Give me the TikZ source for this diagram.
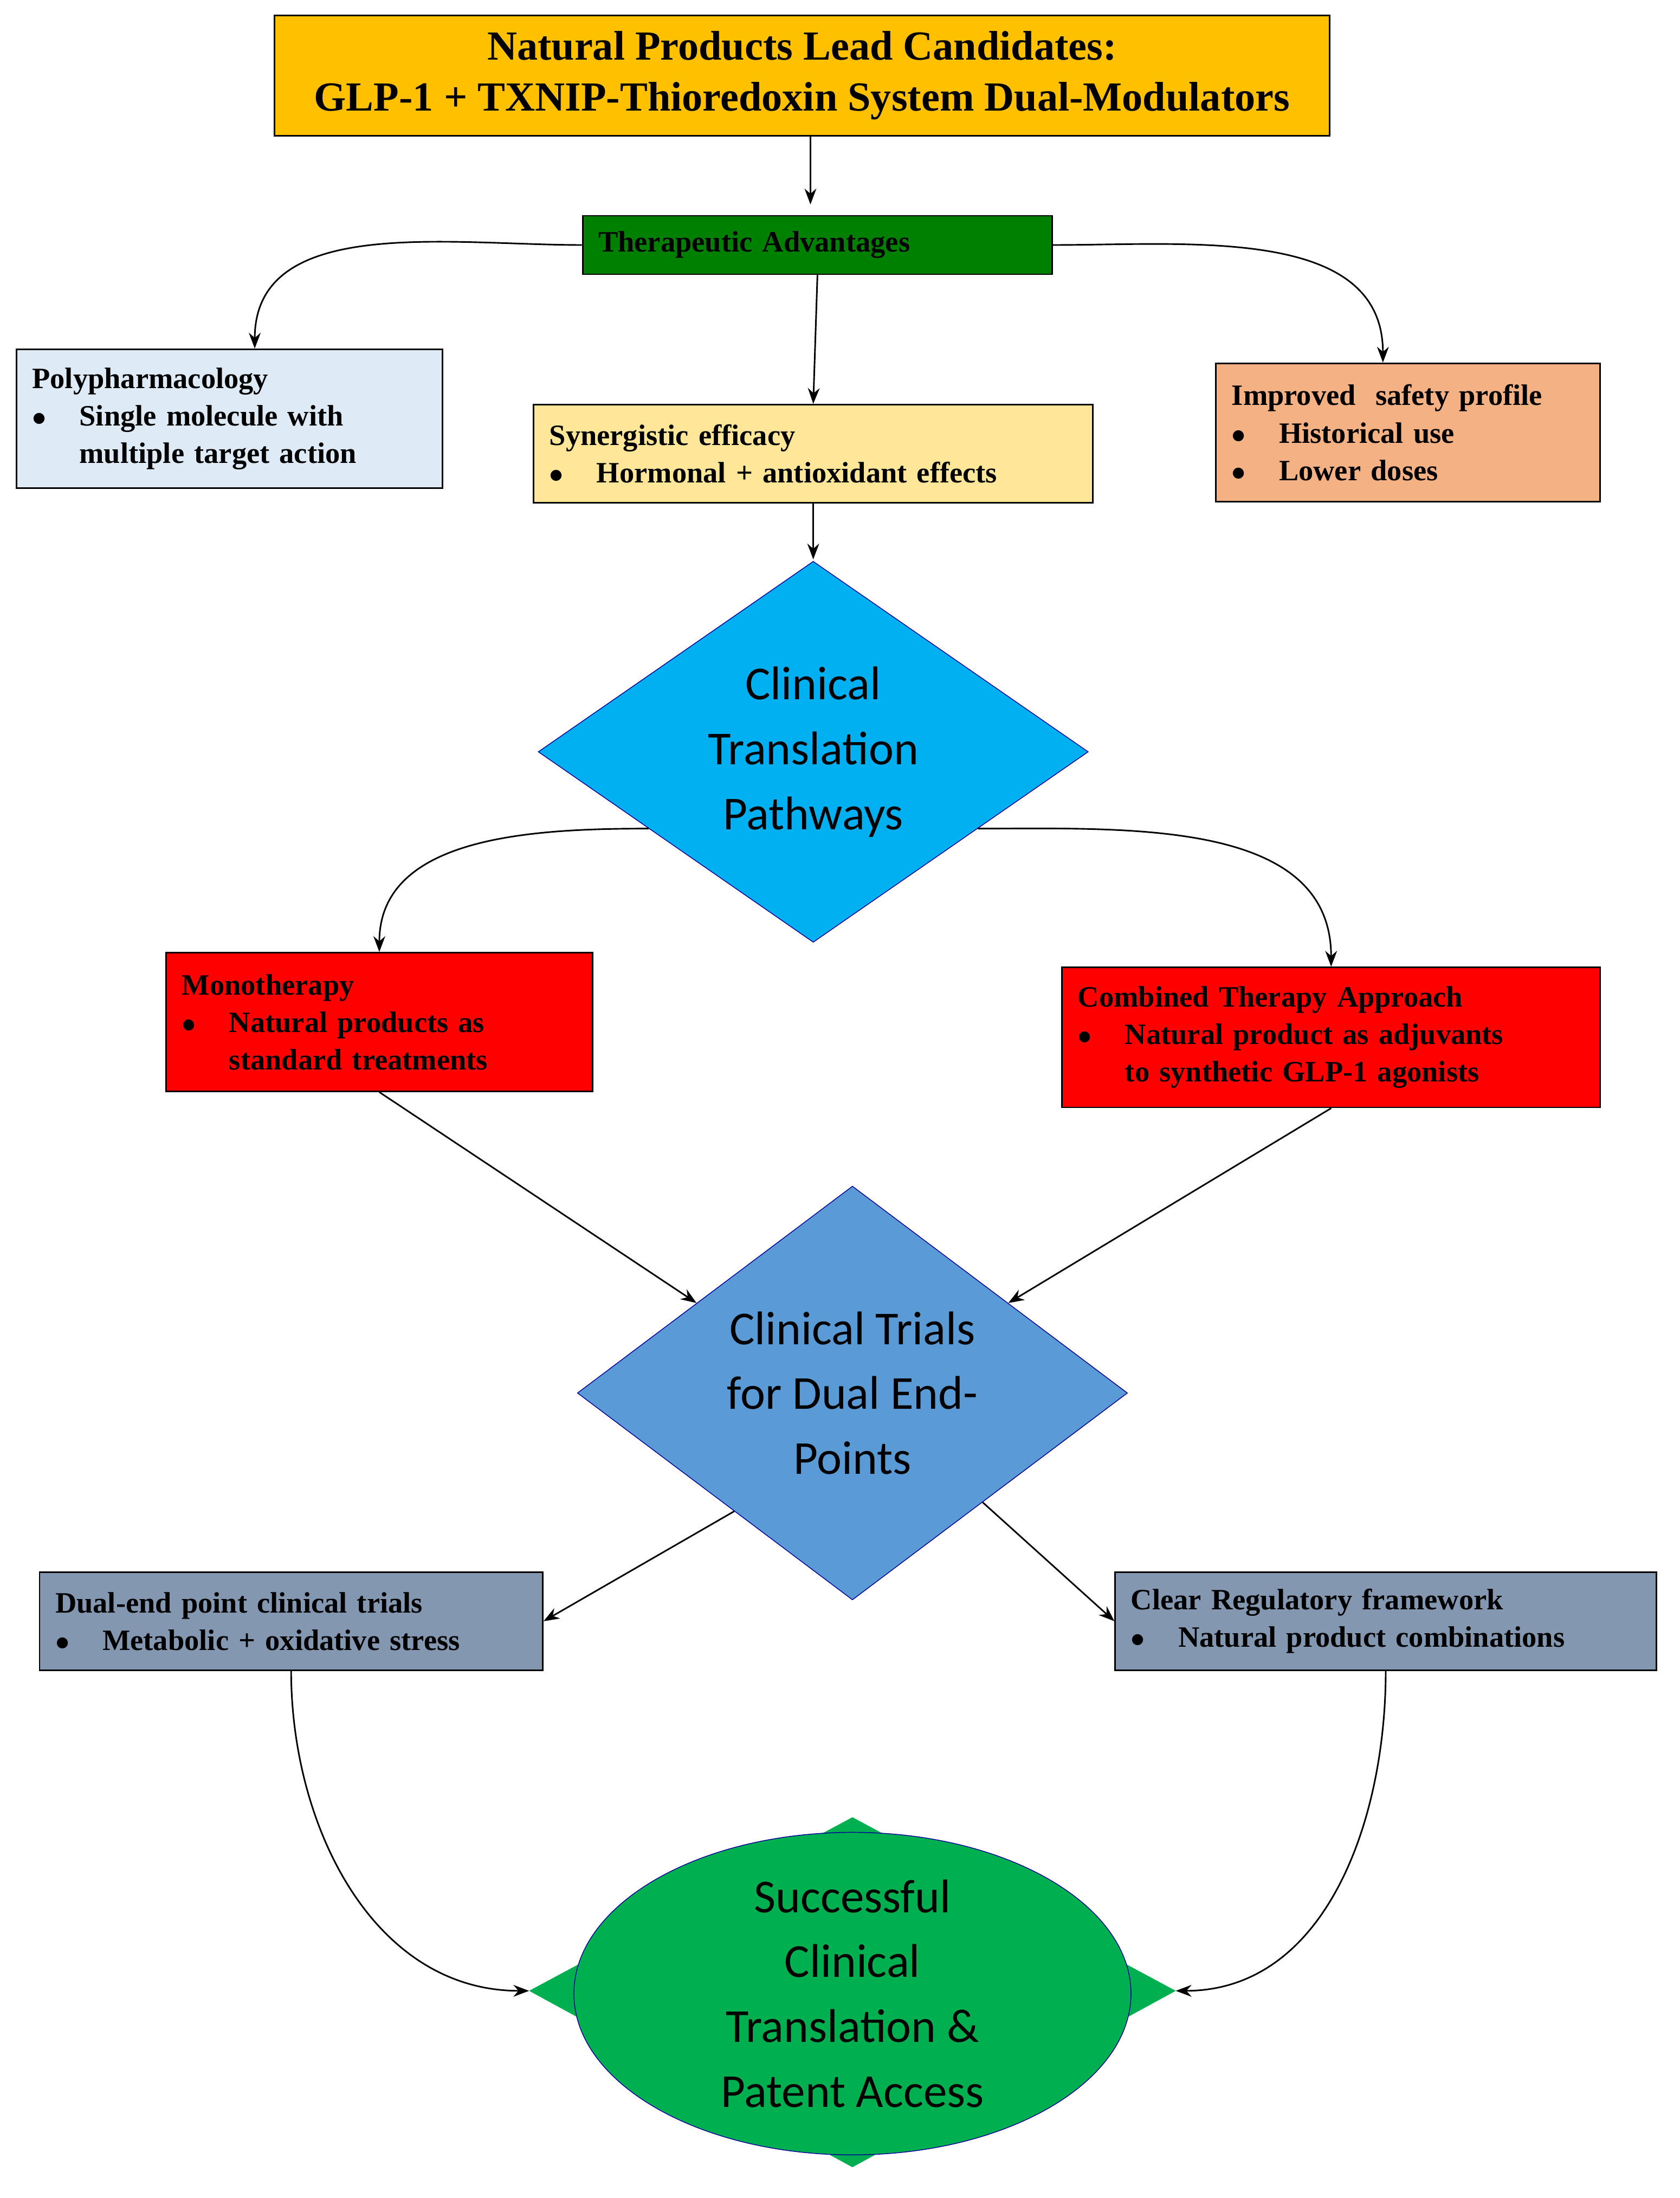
\documentclass[tikz,border=0pt]{standalone}
\usepackage{fontspec}
\setmainfont{Liberation Serif}
\newfontfamily\carlitofont{Carlito}
\usetikzlibrary{shapes.geometric,arrows.meta}
\definecolor{titleorange}{HTML}{FFC000}
\definecolor{tagreen}{HTML}{008000}
\definecolor{polyblue}{HTML}{DEEBF7}
\definecolor{synyellow}{HTML}{FFE699}
\definecolor{safeorange}{HTML}{F4B183}
\definecolor{pathblue}{HTML}{00B0F0}
\definecolor{trialblue}{HTML}{5B9BD5}
\definecolor{regslate}{HTML}{8497B0}
\definecolor{succgreen}{HTML}{00B050}
\newcommand{\bl}{\makebox[1.6em][l]{$\bullet$}}
\newcommand{\ind}{\hspace*{1.6em}}
\tikzset{
  box/.style={draw=black, thick, align=left, font=\bfseries\fontsize{15}{19}\selectfont, inner sep=8pt},
  dia/.style={diamond, draw=blue!60!black, inner sep=0pt, align=center, font=\carlitofont\fontsize{24}{33}\selectfont},
  arr/.style={-{Stealth[length=8pt]}, thick}
}
\begin{document}
\begin{tikzpicture}[x=0.025cm,y=-0.025cm]
\useasboundingbox (0,0) rectangle (1200,1570);
\node[box, fill=titleorange, align=center, minimum width=754*0.025cm, minimum height=80*0.025cm,
  font=\bfseries\fontsize{21}{26}\selectfont] (title) at (573,54)
  {Natural Products Lead Candidates:\\GLP-1 + TXNIP-Thioredoxin System Dual-Modulators};
\node[box, fill=tagreen, minimum width=329*0.025cm, minimum height=40*0.025cm, text width=313*0.025cm] (ta) at (584,175)
  {Therapeutic Advantages};
\node[box, fill=polyblue, minimum width=298*0.025cm, minimum height=99*0.025cm, text width=282*0.025cm] (poly) at (164,299)
  {Polypharmacology\\\bl Single molecule with\\\ind multiple target action};
\node[box, fill=synyellow, minimum width=393*0.025cm, minimum height=70*0.025cm, text width=377*0.025cm] (syn) at (581,324)
  {Synergistic efficacy\\\bl Hormonal + antioxidant effects};
\node[box, fill=safeorange, minimum width=268*0.025cm, minimum height=99*0.025cm, text width=252*0.025cm] (safe) at (1006,309)
  {Improved\ \ safety profile\\\bl Historical use\\\bl Lower doses};
\node[dia, fill=pathblue, minimum width=393*0.025cm, minimum height=254*0.025cm] (path) at (581,537)
  {Clinical\\Translation\\Pathways};
\node[box, fill=red, minimum width=298*0.025cm, minimum height=99*0.025cm, text width=282*0.025cm] (mono) at (271,730)
  {Monotherapy\\\bl Natural products as\\\ind standard treatments};
\node[box, fill=red, minimum width=378*0.025cm, minimum height=100*0.025cm, text width=362*0.025cm] (comb) at (951,741)
  {Combined Therapy Approach\\\bl Natural product as adjuvants\\\ind to synthetic GLP-1 agonists};
\node[dia, fill=trialblue, minimum width=393*0.025cm, minimum height=186*0.025cm] (trial) at (609,995)
  {Clinical Trials\\for Dual End-\\Points};
\node[box, fill=regslate, minimum width=353*0.025cm, minimum height=70*0.025cm, text width=337*0.025cm] (dual) at (208,1158)
  {Dual-end point clinical trials\\\bl Metabolic + oxidative stress};
\node[box, fill=regslate, minimum width=380*0.025cm, minimum height=70*0.025cm, text width=364*0.025cm] (reg) at (990,1158)
  {Clear Regulatory framework\\\bl Natural product combinations};
% success shape
\fill[succgreen] (378,1422) -- (609,1298) -- (840,1422) -- (609,1548) -- cycle;
\node[ellipse, draw=blue!60!black, fill=succgreen, minimum width=398*0.025cm, minimum height=230*0.025cm,
  inner sep=0pt, align=center, font=\carlitofont\fontsize{24}{33}\selectfont] (succ) at (609,1424)
  {Successful\\Clinical\\Translation \&\\Patent Access};
\coordinate (sl) at (378,1422);
\coordinate (sr) at (840,1422);
% connectors
\draw[arr] (title.south -| 579,0) -- (579,146);
\draw[arr] (ta.west) to[out=180,in=90] (poly.north -| 182,0);
\draw[arr] (ta.south) -- (syn.north);
\draw[arr] (ta.east) to[out=0,in=90] (safe.north -| 988,0);
\draw[arr] (syn.south) -- ++(0,40);
\draw[arr] (path.205) to[out=180,in=90] (mono.north);
\draw[arr] (path.335) to[out=0,in=90] (comb.north);
\draw[arr] (mono.south) -- (trial.150);
\draw[arr] (comb.south) -- (trial.30);
\draw[arr] (trial.225) -- (dual.east);
\draw[arr] (trial.320) -- (reg.west);
\draw[arr] (dual.south) to[out=-90,in=180] (sl);
\draw[arr] (reg.south) to[out=-90,in=0] (sr);
\end{tikzpicture}
\end{document}
